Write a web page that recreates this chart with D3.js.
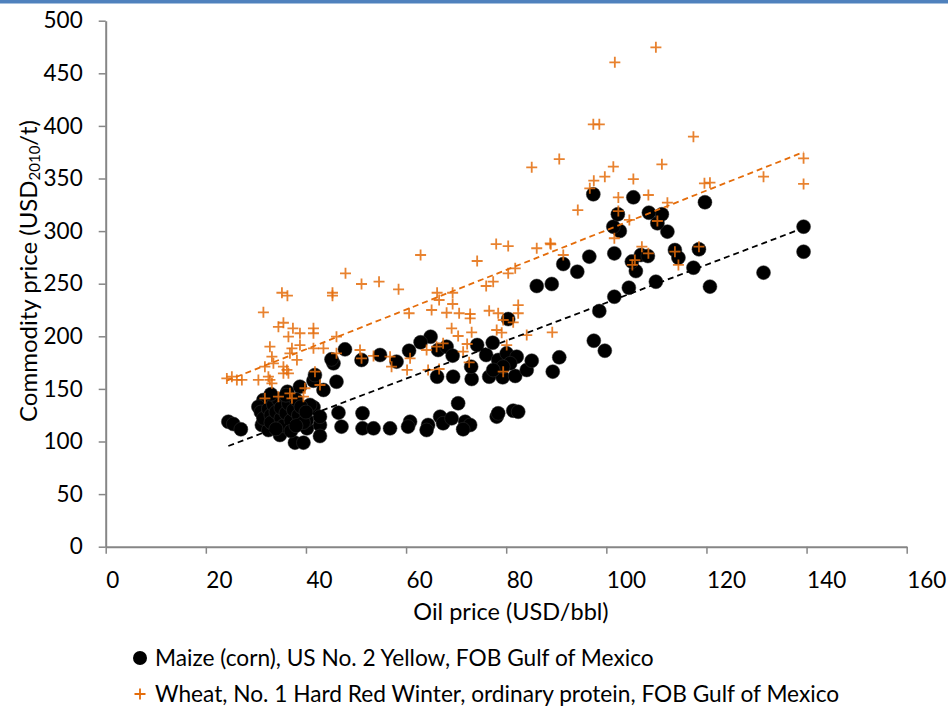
<!DOCTYPE html>
<html>
<head>
<meta charset="utf-8">
<script src="https://cdn.jsdelivr.net/npm/d3@7"></script>
<style>
  body { margin: 0; background: #fff; }
  text { font-family: Lato, "Open Sans", sans-serif; fill: #000; }
</style>
</head>
<body>
<div id="chart"></div>
<script>
// oil price (USD/bbl), maize price (USD2010/t)
const maize = [
  [24.5,118.8],[25.5,116.6],[27,111.6],
  [31.2,115.7],[31.8,137.8],[32.5,110.9],[34.8,106.2],[37.8,98.9],[39.5,98.9],[36.3,147.3],
  [38.8,152.1],[41.5,132.5],[40.2,112.5],[40.2,120.4],[42.8,115.7],[42.8,105.2],[41.5,157.8],
  [41.8,163.2],[43.5,149],[45.5,174.3],[45.1,178.1],[46.1,156.8],[47.8,187.6],[51.1,177.5],
  [54.8,182.2],[58.1,175.9],[46.5,127.4],[47.1,114.1],[51.3,126.8],[51.3,112.5],[53.5,112.5],
  [56.8,112.5],[31.5,139.4],[32.8,142.6],[40.8,134.7],[42.8,123.6],[34.8,120.4],
  [30.5,133],[31,128],[31.5,122],[32.5,131],[33,125],[33,118],[33.5,135],[34,128],[34.5,140],
  [35,122],[35,132],[35.5,115],[36,127],[36.5,136],[37,120],[37.5,130],[38,140],[38.5,125],
  [39,133],[39.5,118],[40,128],[36,144],[33,145],[34,112],[37,110],[38,115],
  [60.8,118.8],[60.4,114.1],[64.4,115.7],[64.1,110.9],[66.8,123.6],[67.4,117.3],[69.1,122],
  [71.8,118.8],[72.8,115.7],[71.4,111.6],[78.1,123.6],[78.4,126.8],[81.4,129.3],[82.4,128.3],
  [70.4,136.3],
  [64.9,199.6],[62.9,194.3],[60.6,186.3],[66.4,187],[68.1,190.1],[69.3,181.6],[74.2,191.7],
  [77.3,193.9],[76,182.2],[66.2,161.6],[69.4,161.6],[73.1,159.4],[73,171.1],[76.6,161.6],
  [79.3,161],[81.8,162.3],[84.1,168],[85.1,176.8],[90.6,180],[89.3,166.4],[78.4,177.5],
  [80.1,183.8],[82.1,180.6],[80.8,174.3],[79.4,171.1],[77.4,168],[80.4,216.4],
  [97.5,195.8],[99.7,186.3],[86.1,247.8],[89.1,249.7],[91.4,268.7],[94.2,261.4],[96.6,275.7],
  [101.6,278.8],[98.6,224],[101.6,237.6],[104.5,246.2],[105.9,262],[105.1,271],[106.9,277.3],
  [108.3,276.3],[109.9,251.9],[113.7,282],[114.4,274.7],[117.4,265.2],[118.5,282.7],
  [120.7,247.2],[131.4,260.5],[139.4,304.2],[139.4,280.4],[119.7,327.4],[112.2,299.5],
  [110.2,307.4],[111.1,316],[108.5,317.5],[102.7,300.1],[101.4,304.2],[102.3,316],
  [105.4,332.1],[97.4,335]
];

// oil price (USD/bbl), wheat price (USD2010/t)
const wheat = [
  [24.2,160],[25.2,161.6],[26.2,158.5],[27.2,158.5],
  [31.8,141],[34.5,142.6],[30.5,158.5],[32.8,190.1],[33.2,180.6],[33.5,174.3],[31.8,171.1],
  [36.5,199.6],[37.2,188.6],[36.8,183.8],[38.8,202.9],[38.8,191.7],[41.5,202.9],[43.5,188.6],
  [41.5,188.6],[41.8,166.4],[38.2,177.5],[35.5,171.1],[36.2,168],[36.5,164.8],[35.5,164.8],
  [32.5,161.6],[32.8,158.5],[33.2,155.3],[36.8,145.8],[37.2,141],[39.5,142.6],[39.8,150.6],
  [42.8,153.7],[46.1,199.6],[50.8,187],[51.1,179.1],[46.1,183.8],[53.5,181.3],[56.8,180.6],
  [57.1,171.1],
  [31.5,222.8],[35.2,241.4],[36.3,238.6],[35.5,212.9],[45.3,241.4],[45.3,238.6],[47.9,259.9],
  [51.1,249.7],[54.6,251.9],[58.5,244.7],[34.5,209],[37.4,207.6],[41.5,207.6],
  [85.1,360.6],[90.6,368.5],[101.4,361.2],[97.5,347.9],[96.7,340.7],[99.7,351.7],[105.4,349.5],
  [102.4,332],[94.3,320],[108.4,334.3],[102.4,319],[104.6,310.6],[101.6,293.2],[107.1,285.2],
  [108.4,278.9],[105.7,272.5],[105.2,267.8],[62.9,277.3],[78,287.7],[80.4,285.8],[86.1,283.7],
  [88.9,287.5],[91.4,277.3],[74.2,271.6],[80.4,259.9],[81.8,264.6],[76,247.8],[77.4,251.9],
  [66.2,241.4],[69.3,241.4],[66.6,234.5],[69.3,230.7],[65.1,225],[60.6,221.9],[68.1,222.4],
  [70.6,221.9],[72.8,221.2],[72.8,217.1],[76.6,224.3],[78.4,221.9],[82.4,229.7],[82.4,221.9],
  [81.4,213.3],[79.4,215.5],[69.1,207.6],[70.4,200.3],[73.1,203.8],[78.1,206],[79.1,203.4],
  [89.2,203.8],[84.1,201.2],[66.1,190.1],[64.1,187],[67.4,193.3],[72.2,192.7],[71.4,185.4],
  [80.1,191.7],[60.8,179.1],[60.2,168],[64.4,168],[66.6,168.9],[72.6,175.3],[79.4,166.4],
  [109.9,474.7],[101.7,460.4],[97.4,401.5],[98.6,401.5],[117.4,389.8],[139.4,369.2],
  [139.4,344.8],[131.4,351.7],[111.1,363.5],[119.6,345.4],[120.7,346],[112.2,327],
  [110.2,309.6],[88.8,288.4],[113.7,280.4],[114.4,267.8],[118.5,285.2]
];

// linear trend lines: [intercept, slope]
const maizeTrend = [51.5, 1.804];
const wheatTrend = [112.2, 1.886];

const xTicks = [0, 20, 40, 60, 80, 100, 120, 140, 160];
const yTicks = [0, 50, 100, 150, 200, 250, 300, 350, 400, 450, 500];

const seriesNames = [
  "Maize (corn), US No. 2 Yellow, FOB Gulf of Mexico",
  "Wheat, No. 1 Hard Red Winter, ordinary protein, FOB Gulf of Mexico"
];

const W = 948, H = 711;
const orange = "#e46c0a";
const axisGray = "#868686";

const svg = d3.select("#chart").append("svg")
    .attr("width", W)
    .attr("height", H);

// blue band at the top
svg.append("rect")
    .attr("x", 0).attr("y", 0)
    .attr("width", W).attr("height", 3.5)
    .attr("fill", "#4f81bd");

const x = d3.scaleLinear().domain([0, 160]).range([105.7, 906.7]);
const y = d3.scaleLinear().domain([0, 500]).range([546.7, 20.7]);

// x axis
const gx = svg.append("g")
    .attr("transform", `translate(0,${y(0)})`)
    .call(d3.axisBottom(x).tickValues(xTicks).tickSize(7).tickSizeOuter(0).tickFormat(d3.format("d")));
gx.select(".domain").attr("stroke", axisGray).attr("stroke-width", 2);
gx.selectAll(".tick line").attr("stroke", axisGray).attr("stroke-width", 1.5);
gx.selectAll(".tick text")
    .attr("text-anchor", "start")
    .attr("y", 33).attr("dy", "0.35em")
    .attr("font-size", 22.5)
    .attr("font-family", "Lato");

// y axis
const gy = svg.append("g")
    .attr("transform", `translate(${x(0)},0)`)
    .call(d3.axisLeft(y).tickValues(yTicks).tickSize(7).tickSizeOuter(0).tickPadding(16));
gy.select(".domain").attr("stroke", axisGray).attr("stroke-width", 2);
gy.selectAll(".tick line").attr("stroke", axisGray).attr("stroke-width", 1.5);
gy.selectAll(".tick text")
    .attr("font-size", 22.5)
    .attr("font-family", "Lato");

// axis titles
svg.append("text")
    .attr("x", 511).attr("y", 612)
    .attr("dy", "0.35em")
    .attr("text-anchor", "middle")
    .attr("font-size", 23.5)
    .text("Oil price (USD/bbl)");

const yTitle = svg.append("text")
    .attr("transform", "translate(37,271) rotate(-90)")
    .attr("text-anchor", "middle")
    .attr("font-size", 24);
yTitle.append("tspan").text("Commodity price (USD");
yTitle.append("tspan").attr("font-size", 15).attr("baseline-shift", "-22%").text("2010");
yTitle.append("tspan").text("/t)");

// markers
const plot = svg.append("g");

plot.selectAll("circle.maize")
    .data(maize)
    .join("circle")
    .attr("class", "maize")
    .attr("cx", d => x(d[0]))
    .attr("cy", d => y(d[1]))
    .attr("r", 7)
    .attr("fill", "#000")
    .attr("stroke", "#333")
    .attr("stroke-width", 0.5);

function plusPath(cx, cy, s) {
    return `M${cx - s},${cy}H${cx + s}M${cx},${cy - s}V${cy + s}`;
}

plot.selectAll("path.wheat")
    .data(wheat)
    .join("path")
    .attr("class", "wheat")
    .attr("d", d => plusPath(x(d[0]), y(d[1]), 5.5))
    .attr("stroke", orange)
    .attr("stroke-width", 1.8)
    .attr("stroke-opacity", 0.85)
    .attr("fill", "none");

// trend lines over the range of the data
function trendLine(data, coef, color) {
    const ext = d3.extent(data, d => d[0]);
    const pts = ext.map(v => [v, coef[0] + coef[1] * v]);
    svg.append("path")
        .datum(pts)
        .attr("d", d3.line().x(d => x(d[0])).y(d => y(d[1])))
        .attr("stroke", color)
        .attr("stroke-width", 1.8)
        .attr("stroke-dasharray", "6,4")
        .attr("fill", "none");
}
trendLine(maize, maizeTrend, "#000");
trendLine(wheat, wheatTrend, orange);

// legend
const legend = svg.append("g");
legend.append("circle")
    .attr("cx", 140).attr("cy", 658)
    .attr("r", 7)
    .attr("fill", "#000");
legend.append("path")
    .attr("d", plusPath(140, 694, 5.5))
    .attr("stroke", orange)
    .attr("stroke-width", 1.8)
    .attr("fill", "none");
legend.selectAll("text.leg")
    .data(seriesNames)
    .join("text")
    .attr("class", "leg")
    .attr("x", 155)
    .attr("y", (d, i) => 658 + i * 36)
    .attr("dy", "0.35em")
    .attr("font-size", 22.7)
    .text(d => d);
</script>
</body>
</html>
